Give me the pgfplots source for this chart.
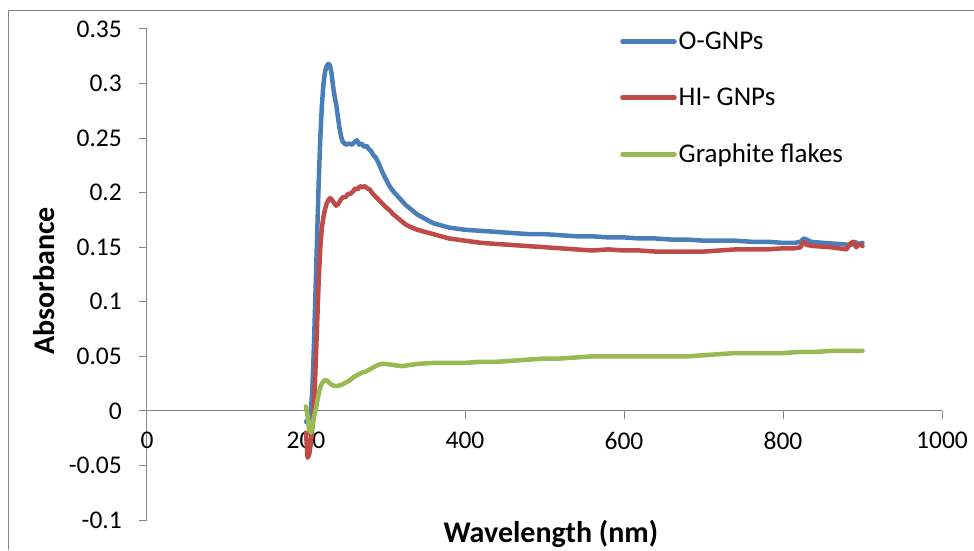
\documentclass[border=0pt]{standalone}
\usepackage{pgfplots}
\pgfplotsset{compat=1.18}
\usepackage{fontspec}
\setmainfont{Carlito}

\definecolor{ogn}{HTML}{4A7EBB}
\definecolor{hig}{HTML}{BE4B48}
\definecolor{gra}{HTML}{98B954}
\definecolor{axgray}{HTML}{868686}

\begin{document}
\begin{tikzpicture}[x=1pt,y=1pt]
\path[use as bounding box] (-147,-30) rectangle (827,520);
\draw[axgray, line width=1pt] (-138,-30) -- (-138,509) -- (827,509);
\begin{axis}[
	width=795pt, height=491pt, scale only axis,
	xmin=0, xmax=1000, ymin=-0.1, ymax=0.35,
	axis x line=middle, axis y line=left,
	axis line style={-, axgray, line width=1pt},
	hide obscured x ticks=false, hide obscured y ticks=false,
	tick align=outside, major tick length=8pt,
	tick style={axgray, line width=1pt},
	xtick={0,200,400,600,800,1000},
	xticklabels={0,200,400,600,800,1000},
	ytick={-0.1,-0.05,0,0.05,0.1,0.15,0.2,0.25,0.3,0.35},
	yticklabels={-0.1,-0.05,0,0.05,0.1,0.15,0.2,0.25,0.3,0.35},
	tick label style={font=\fontsize{25.5}{30}\selectfont},
	yticklabel style={anchor=east, inner sep=0pt, xshift=-17pt},
	xticklabel style={anchor=north, inner sep=0pt, yshift=-13pt},
	xlabel={Wavelength (nm)}, ylabel={Absorbance},
	label style={font=\bfseries\fontsize{30}{34}\selectfont},
	xlabel style={at={(axis description cs:0.508,-0.0285)}, anchor=center},
	ylabel style={at={(axis description cs:-0.130,0.487)}, anchor=center, rotate=0},
	legend style={draw=none, fill=none, at={(axis description cs:0.595,0.859)}, anchor=west,
		font=\fontsize{27}{31}\selectfont, row sep=33pt, inner sep=0pt,
		nodes={inner sep=2pt}},
	legend cell align=left,
	legend image code/.code={\draw[#1, line width=4.5pt, line cap=round] (0pt,0pt) -- (52pt,0pt);},
	every axis plot/.append style={line width=4.5pt, line join=round, line cap=round},
]
\addplot[ogn] coordinates {
(200,-0.010) (203,-0.008) (206,-0.002) (208,0.02) (210,0.06) (212,0.11)
(214,0.16) (216,0.21) (218,0.25) (220,0.28) (222,0.300) (224,0.311)
(226,0.316) (228,0.318) (230,0.317) (232,0.310) (234,0.298) (236,0.288)
(238,0.281) (240,0.270) (242,0.260) (244,0.252) (246,0.247) (250,0.244)
(254,0.245) (258,0.244) (262,0.247) (264,0.248) (267,0.244) (270,0.245)
(273,0.242) (276,0.243) (279,0.240) (282,0.238) (285,0.234) (288,0.232)
(292,0.226) (296,0.219) (300,0.213) (305,0.206) (310,0.201) (315,0.197)
(320,0.193) (325,0.189) (330,0.186) (335,0.183) (340,0.180) (345,0.178)
(350,0.176) (355,0.174) (360,0.172) (365,0.171) (370,0.170) (380,0.168)
(390,0.167) (400,0.166) (420,0.165) (440,0.164) (460,0.163) (480,0.162)
(500,0.162) (520,0.161) (540,0.160) (560,0.160) (580,0.159) (600,0.159)
(620,0.158) (640,0.158) (660,0.157) (680,0.157) (700,0.156) (720,0.156)
(740,0.156) (760,0.155) (780,0.155) (800,0.154) (815,0.154) (822,0.155)
(826,0.158) (830,0.157) (835,0.155) (850,0.154) (870,0.153) (885,0.152)
(890,0.155) (895,0.153) (900,0.154)
};
\addlegendentry{O-GNPs}
\addplot[hig] coordinates {
(200,-0.02) (202,-0.043) (204,-0.040) (206,-0.030) (208,-0.015) (210,0.0)
(212,0.04) (214,0.08) (216,0.12) (218,0.15) (220,0.168) (222,0.178)
(224,0.185) (226,0.190) (228,0.193) (230,0.195) (232,0.194) (235,0.191)
(238,0.188) (241,0.190) (244,0.194) (247,0.196) (250,0.196) (253,0.199)
(256,0.199) (259,0.201) (262,0.204) (265,0.203) (268,0.206) (271,0.205)
(274,0.206) (277,0.204) (280,0.203) (284,0.199) (288,0.196) (292,0.193)
(296,0.190) (300,0.187) (305,0.184) (310,0.180) (315,0.177) (320,0.174)
(325,0.171) (330,0.169) (340,0.166) (350,0.164) (360,0.162) (370,0.160)
(380,0.158) (390,0.157) (400,0.156) (420,0.154) (440,0.153) (460,0.152)
(480,0.151) (500,0.150) (520,0.149) (540,0.148) (560,0.147) (580,0.148)
(600,0.147) (620,0.147) (640,0.146) (660,0.146) (680,0.146) (700,0.146)
(720,0.147) (740,0.148) (760,0.148) (780,0.148) (800,0.149) (815,0.149)
(822,0.150) (826,0.155) (830,0.152) (840,0.151) (860,0.150) (880,0.148)
(884,0.153) (888,0.155) (892,0.150) (896,0.153) (900,0.151)
};
\addlegendentry{HI- GNPs}
\addplot[gra] coordinates {
(200,0.004) (202,-0.005) (204,-0.018) (206,-0.020) (208,-0.015) (210,-0.005)
(212,0.000) (214,0.008) (216,0.016) (218,0.022) (220,0.025) (223,0.028)
(226,0.028) (229,0.026) (232,0.024) (235,0.023) (240,0.023) (245,0.024)
(250,0.026) (255,0.028) (260,0.031) (265,0.033) (270,0.035) (275,0.036)
(280,0.038) (285,0.040) (290,0.042) (295,0.043) (300,0.043) (310,0.042)
(320,0.041) (340,0.043) (360,0.044) (380,0.044) (400,0.044) (420,0.045)
(440,0.045) (460,0.046) (480,0.047) (500,0.048) (520,0.048) (540,0.049)
(560,0.050) (580,0.050) (600,0.050) (620,0.050) (640,0.050) (660,0.050)
(680,0.050) (700,0.051) (720,0.052) (740,0.053) (760,0.053) (780,0.053)
(800,0.053) (820,0.054) (840,0.054) (860,0.055) (880,0.055) (900,0.055)
};
\addlegendentry{Graphite flakes}
\end{axis}
\end{tikzpicture}
\end{document}
